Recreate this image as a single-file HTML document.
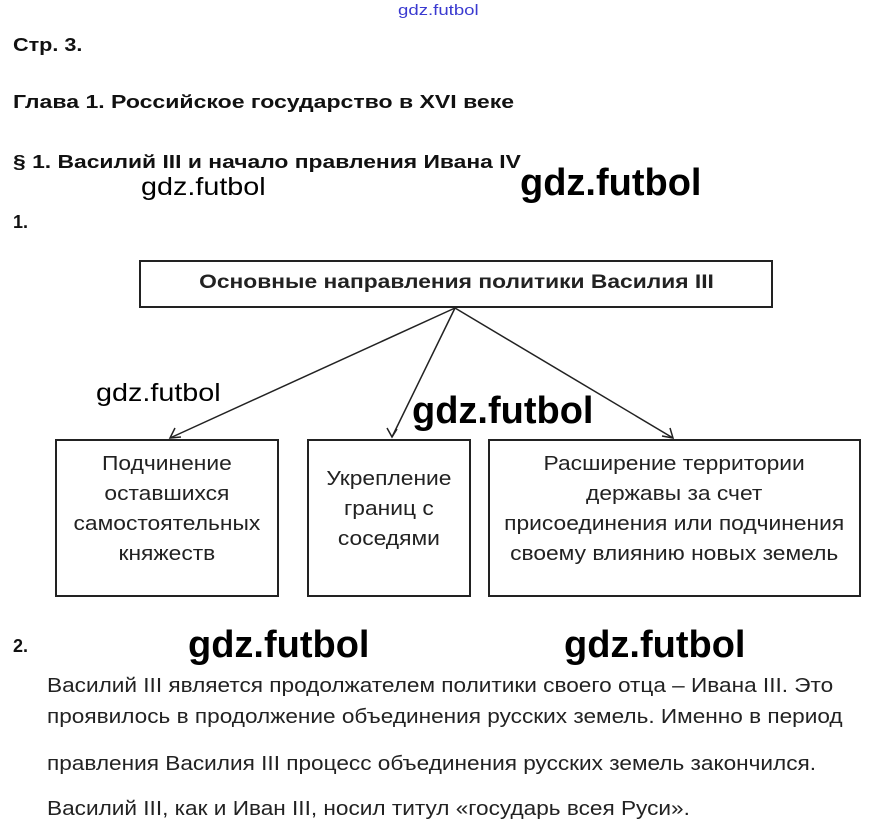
<!DOCTYPE html>
<html><head><meta charset="utf-8"><style>
body{margin:0;width:879px;height:839px;background:#fff;position:relative;overflow:hidden;font-family:"Liberation Sans",sans-serif;color:#111}
.a{position:absolute;white-space:nowrap;transform-origin:0 0}
.b{font-weight:bold;font-size:18px}
.w{font-family:"Liberation Sans",sans-serif;color:#000}
.t{font-size:20px;color:#222;transform:scaleX(1.13)}
.box{position:absolute;border:2px solid #222;box-sizing:border-box;text-align:center;font-size:20px;line-height:30px;color:#222}
.box span{display:inline-block;transform:scaleX(1.14)}
</style></head><body>
<div class="a" style="left:398px;top:2px;font-size:15px;color:#3a3ad0;transform:scaleX(1.24)">gdz.futbol</div>
<div class="a b" style="left:13px;top:35px;transform:scaleX(1.2)">Стр. 3.</div>
<div class="a b" style="left:13px;top:92px;transform:scaleX(1.28)">Глава 1. Российское государство в XVI веке</div>
<div class="a b" style="left:13px;top:152px;transform:scaleX(1.27)">§ 1. Василий III и начало правления Ивана IV</div>
<div class="a w" style="left:141px;top:173px;font-size:25px;transform:scaleX(1.15)">gdz.futbol</div>
<div class="a w" style="left:520px;top:162px;font-size:38px;font-weight:bold">gdz.futbol</div>
<div class="a b" style="left:13px;top:212px">1.</div>
<div class="box" style="left:139px;top:260px;width:634px;height:48px;font-weight:bold;font-size:19px;line-height:42px"><span style="transform:scaleX(1.2)">Основные направления политики Василия III</span></div>
<svg class="a" style="left:0;top:0" width="879" height="839">
<g stroke="#222" stroke-width="1.5" fill="none">
<line x1="455" y1="308" x2="170" y2="438"/><path d="M175 428 L170 438 L181 437"/>
<line x1="455" y1="308" x2="392" y2="437"/><path d="M387 428 L392 437 L397 429"/>
<line x1="455" y1="308" x2="673" y2="438"/><path d="M662 436 L673 438 L670 428"/>
</g></svg>
<div class="a w" style="left:96px;top:379px;font-size:25px;transform:scaleX(1.15)">gdz.futbol</div>
<div class="a w" style="left:412px;top:390px;font-size:38px;font-weight:bold">gdz.futbol</div>
<div class="box" style="left:55px;top:439px;width:224px;height:158px;padding-top:8px"><span>Подчинение<br>оставшихся<br>самостоятельных<br>княжеств</span></div>
<div class="box" style="left:307px;top:439px;width:164px;height:158px;padding-top:23px"><span>Укрепление<br>границ с<br>соседями</span></div>
<div class="box" style="left:488px;top:439px;width:373px;height:158px;padding-top:8px"><span>Расширение территории<br>державы за счет<br>присоединения или подчинения<br>своему влиянию новых земель</span></div>
<div class="a b" style="left:13px;top:636px">2.</div>
<div class="a w" style="left:188px;top:624px;font-size:38px;font-weight:bold">gdz.futbol</div>
<div class="a w" style="left:564px;top:624px;font-size:38px;font-weight:bold">gdz.futbol</div>
<div class="a t" style="left:47px;top:675px">Василий III является продолжателем политики своего отца – Ивана III. Это</div>
<div class="a t" style="left:47px;top:706px">проявилось в продолжение объединения русских земель. Именно в период</div>
<div class="a t" style="left:47px;top:753px">правления Василия III процесс объединения русских земель закончился.</div>
<div class="a t" style="left:47px;top:798px">Василий III, как и Иван III, носил титул «государь всея Руси».</div>
</body></html>
